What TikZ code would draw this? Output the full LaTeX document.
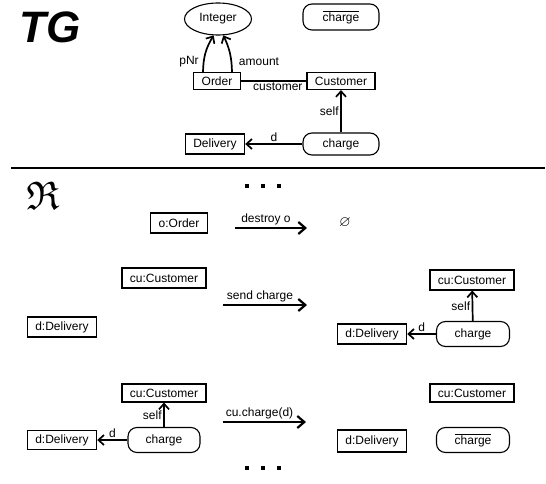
\documentclass[tikz,border=0pt]{standalone}
\usepackage{amssymb}
\usepackage{fontspec}
\setmainfont{Liberation Sans}
\usetikzlibrary{arrows.meta,shapes.geometric}

\begin{document}
\begin{tikzpicture}[x=1pt,y=-1pt,>={Straight Barb[length=5.5pt,width=10pt]},
    every node/.style={font=\fontsize{12}{14}\selectfont},
    cls/.style={draw,line width=1.1pt,inner xsep=8pt,inner ysep=0pt,minimum height=17pt},
    obj/.style={cls,minimum height=20pt},
    evt/.style={draw,line width=1.1pt,rounded corners=9pt,minimum width=76pt,minimum height=24pt,inner sep=0pt},
    lnk/.style={->,line width=1.7pt},
    step arrow/.style={-{Straight Barb[length=7pt,width=12pt]},line width=2.2pt},
    lbl/.style={inner sep=1.5pt}]

    \useasboundingbox (0,0) rectangle (546,484);

    % type graph
    \node[font=\fontsize{44}{48}\selectfont\bfseries\itshape] (tg) at (50,27) {TG};

    \node[draw,ellipse,line width=1.1pt,minimum width=67pt,minimum height=32pt,inner sep=0pt] (int) at (218,19) {Integer};
    \node[evt,minimum height=26pt] (nchg) at (341,17) {$\overline{\mbox{charge}}$};
    \node[cls] (ord) at (217,81) {Order};
    \node[cls] (cus) at (341,81) {Customer};
    \node[cls,minimum height=20pt] (del) at (215,144) {Delivery};
    \node[evt,minimum height=22pt] (chg) at (341,144) {charge};

    \draw[lnk] ([xshift=-14pt]ord.north) to[bend left=15] (int.255);
    \node[lbl] (pnr) at (189,62) {pNr};
    \draw[lnk] ([xshift=15pt]ord.north) to[bend right=12] (int.288);
    \node[lbl] (amt) at (259,62) {amount};
    \draw[line width=1.1pt] (ord) -- (cus) node[lbl,pos=0.97,anchor=north east] {customer};
    \draw[lnk] (chg) -- (del) node[lbl,midway,above] {d};
    \draw[lnk] (chg) -- (cus) node[lbl,midway,left] {self};

    \draw[line width=2.5pt] (11,168) -- (545,168);

    % rules
    \node (rr) at (43,196) {\fontsize{40}{42}\selectfont$\mathfrak{R}$};

    \fill (245,184) rectangle (249,188);
    \fill (261,184) rectangle (265,188);
    \fill (277,184) rectangle (281,188);

    \node[obj] (o) at (179,223) {o:Order};
    \coordinate (a1s) at (235,228);
    \coordinate (a1e) at (307,228);
    \draw[step arrow] (a1s) -- (a1e) node[lbl,midway,above,xshift=-5pt] {destroy o};
    \node (empty) at (345,223) {\fontsize{15}{16}\selectfont$\varnothing$};

    \node[obj] (cu1) at (164,278) {cu:Customer};
    \node[obj] (d1) at (62,327) {d:Delivery};
    \coordinate (a2s) at (223,305);
    \coordinate (a2e) at (307,305);
    \draw[step arrow] (a2s) -- (a2e) node[lbl,midway,above,xshift=-5pt] {send charge};
    \node[obj] (cu2) at (472,280) {cu:Customer};
    \node[obj] (d2) at (372,334) {d:Delivery};
    \node[evt,minimum width=73pt,minimum height=25pt] (c2) at (473,334) {charge};
    \draw[lnk] (c2) -- (d2) node[lbl,midway,above] {d};
    \draw[lnk] (c2) -- (cu2) node[lbl,midway,left] {self};

    \node[obj,minimum height=18pt] (cu3) at (164,393) {cu:Customer};
    \node[evt,minimum width=72pt,minimum height=25pt] (c3) at (164,440) {charge};
    \node[obj,minimum height=19pt] (d3) at (62,440) {d:Delivery};
    \draw[lnk] (c3) -- (d3) node[lbl,midway,above] {d};
    \draw[lnk] (c3) -- (cu3) node[lbl,midway,left] {self};
    \coordinate (a3s) at (223,422);
    \coordinate (a3e) at (306,422);
    \draw[step arrow] (a3s) -- (a3e) node[lbl,midway,above,xshift=-5pt] {cu.charge(d)};
    \node[obj,minimum height=18pt] (cu4) at (472,393) {cu:Customer};
    \node[obj,minimum height=22pt] (d4) at (372,441) {d:Delivery};
    \node[evt,minimum width=73pt,minimum height=25pt] (c4) at (473,440) {$\overline{\mbox{charge}}$};

    \fill (245,466) rectangle (249,470);
    \fill (261,466) rectangle (265,470);
    \fill (277,466) rectangle (281,470);

\end{tikzpicture}
\end{document}
